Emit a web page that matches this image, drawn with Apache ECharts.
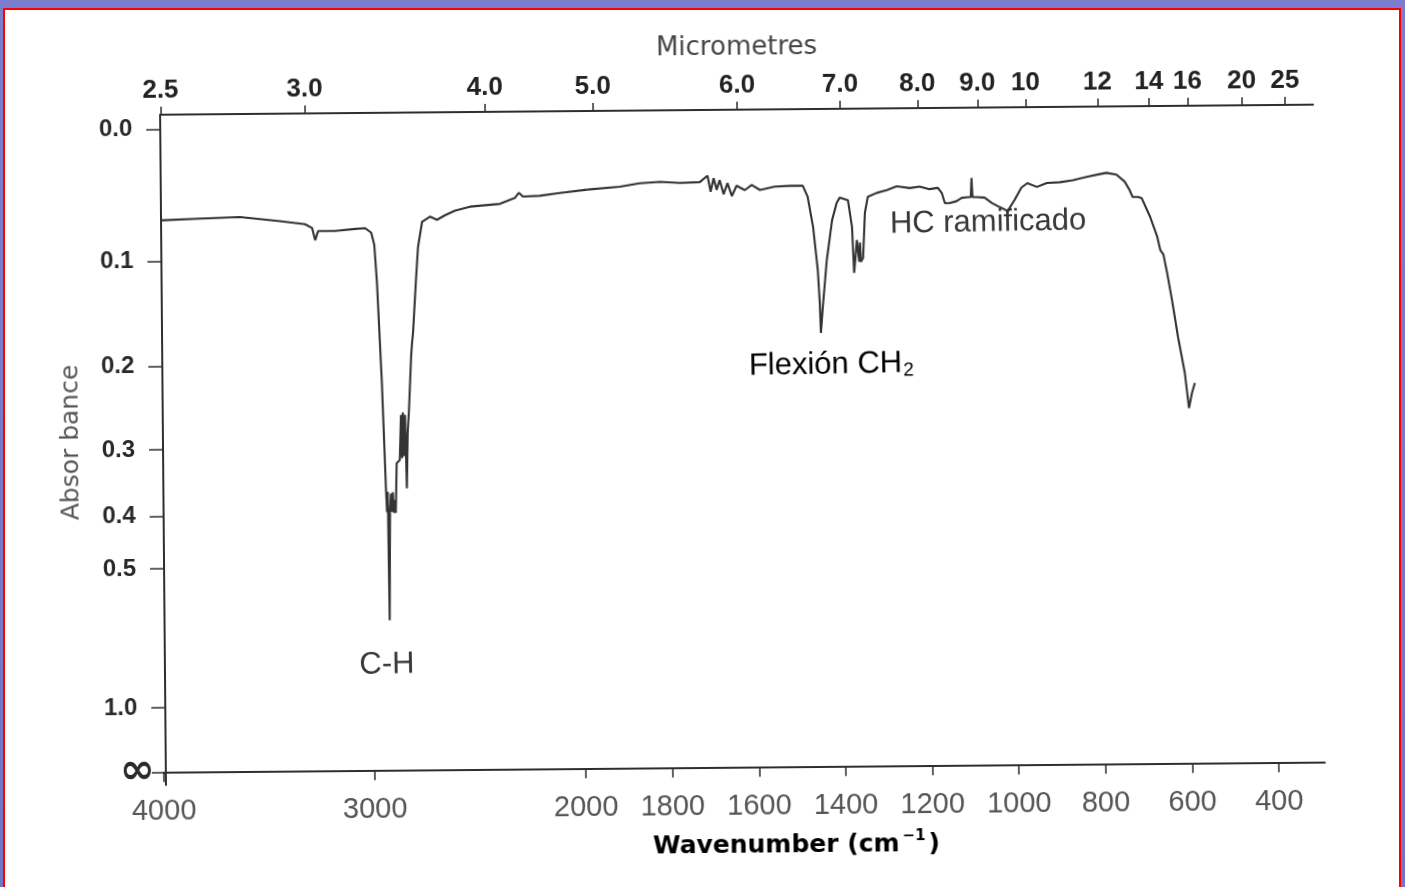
<!DOCTYPE html>
<html>
<head>
<meta charset="utf-8">
<script src="https://cdn.jsdelivr.net/npm/echarts@6/dist/echarts.min.js"></script>
<style>
html,body{margin:0;padding:0;width:1405px;height:887px;overflow:hidden;}
body{background:linear-gradient(180deg,#7d7dcf 0%,#7474c6 100%);}
#frame{position:absolute;left:3px;top:8px;width:1398px;height:885px;background:#fff;border:2px solid #f00;border-bottom:none;box-sizing:border-box;}
#chart{position:absolute;left:0;top:0;width:1405px;height:887px;transform:rotate(-0.5deg);transform-origin:702.5px 443.5px;}
</style>
</head>
<body>
<div id="frame"></div>
<div id="chart"></div>
<script>
// ---- tick label data ----
const absorbanceTicks = [0.0, 0.1, 0.2, 0.3, 0.4, 0.5, 1.0];
const absorbanceLabels = ['0.0', '0.1', '0.2', '0.3', '0.4', '0.5', '1.0'];
const infinityLabel = '\u221E';
const wavenumberTicksLeft = [4000, 3000, 2000];
const wavenumberTicksRight = [1800, 1600, 1400, 1200, 1000, 800, 600, 400];
const micrometreTicks = [2.5, 3.0, 4.0, 5.0, 6.0, 7.0, 8.0, 9.0, 10, 12, 14, 16, 20, 25];
const micrometreLabels = ['2.5', '3.0', '4.0', '5.0', '6.0', '7.0', '8.0', '9.0', '10', '12', '14', '16', '20', '25'];

// ---- spectrum (transmittance %) ----
const leftWavenumbers = [4000,3817,3630,3442,3325,3292,3278,3264,3184,3090,3043,3015,3001,2990,2971,2956,2952,2948,2944,2938,2933,2929,2924,2920,2915,2911,2905,2890,2883,2879,2874,2869,2864,2858,2852,2845,2833,2828,2823,2807,2796,2776,2739,2706,2668,2621,2551,2410,2340,2321,2302,2223,2129,2000];
const leftTransmittance = [85.8,86.0,86.2,85.5,85.0,84.4,82.5,83.9,83.9,84.2,84.3,83.6,81.7,75.8,60.2,43.6,40.1,43.3,23.3,40.4,43.0,40.2,43.2,40.0,42.0,40.0,47.7,48.2,55.2,48.5,55.6,48.8,55.2,43.8,52.5,56.0,64.2,66.4,67.9,76.2,81.3,85.2,86.0,85.5,86.2,86.9,87.5,87.9,88.8,89.6,89.0,89.1,89.5,90.0];
const rightWavenumbers = [2000,1925,1879,1832,1786,1740,1722,1715,1708,1701,1694,1685,1676,1666,1655,1636,1620,1601,1567,1532,1502,1491,1479,1469,1465,1463,1458,1448,1435,1424,1417,1398,1389,1385,1378,1373,1371,1369,1364,1359,1352,1331,1308,1285,1255,1232,1209,1190,1181,1174,1163,1147,1135,1121,1114,1112,1110,1101,1082,1066,1047,1029,1013,997,983,961,938,908,878,846,816,800,777,758,747,740,728,719,700,684,677,670,662,651,638,623,614,607,600];
const rightTransmittance = [90.0,90.4,90.9,91.1,90.9,91.0,92.0,89.5,91.6,89.8,91.3,89.1,90.8,88.8,90.4,89.7,90.5,89.7,90.2,90.3,90.3,88.6,83.9,77.2,72.1,67.4,71.5,78.7,84.9,87.6,88.4,88.0,83.8,76.7,81.8,78.4,81.4,78.4,79.0,86.0,88.5,89.1,89.5,90.1,89.8,90.0,89.6,89.8,89.0,87.4,87.4,87.7,88.2,88.3,88.3,91.3,88.3,88.3,88.2,87.4,86.7,86.1,87.8,89.7,90.4,89.8,90.4,90.5,90.8,91.3,91.7,91.9,91.6,90.5,89.2,88.1,88.1,87.9,85.0,81.9,79.8,79.1,76.3,72.0,66.3,60.7,55.2,57.5,59.1];

// ---- helpers ----
const absToT = a => 100 * Math.pow(10, -a);
const yTickValues = absorbanceTicks.map(absToT).concat([0]);
function yLabel(v) {
  if (Math.abs(v) < 1e-6) return '{inf|' + infinityLabel + '}';
  let best = 0, bd = 1e9;
  absorbanceTicks.forEach((a, i) => { const d = Math.abs(absToT(a) - v); if (d < bd) { bd = d; best = i; } });
  return absorbanceLabels[best];
}
const umToWn = m => 10000 / m;
function umLabel(v) {
  const m = 10000 / v;
  let best = 0, bd = 1e9;
  micrometreTicks.forEach((t, i) => { const d = Math.abs(t - m); if (d < bd) { bd = d; best = i; } });
  return micrometreLabels[best];
}
const umLeft = micrometreTicks.map(umToWn).filter(v => v >= 2000);
const umRight = micrometreTicks.map(umToWn).filter(v => v < 2000);
const pair = (xs, ys) => xs.map((x, i) => [x, ys[i]]);

const AX = '#2e2e2e';
const TMIN = -2, TMAX = 102.22;
const GTOP = 110, GH = 670.2;

function mkGrid(left, width) {
  return { left: left, top: GTOP, width: width, height: GH, containLabel: false, outerBoundsMode: 'none' };
}
function hiddenX(grid, min, max) {
  return { type: 'value', gridIndex: grid, min: min, max: max, inverse: true, show: false,
    axisLine: { show: false, onZero: false }, axisTick: { show: false }, axisLabel: { show: false }, splitLine: { show: false } };
}
function hiddenY(grid) {
  return { type: 'value', gridIndex: grid, min: TMIN, max: TMAX, show: false,
    axisLine: { show: false }, axisTick: { show: false }, axisLabel: { show: false }, splitLine: { show: false } };
}
function bottomAxis(grid, min, max, ticks) {
  return {
    type: 'value', gridIndex: grid, position: 'bottom', min: min, max: max, inverse: true,
    axisLine: { show: true, onZero: true, lineStyle: { color: AX, width: 2 } },
    axisTick: { show: true, customValues: ticks, inside: false, length: 10, lineStyle: { color: AX, width: 1.5 } },
    axisLabel: { show: true, customValues: ticks, margin: 12, color: '#555', fontFamily: 'Liberation Sans', fontSize: 29, formatter: v => String(Math.round(v)) },
    splitLine: { show: false }
  };
}
function topAxis(grid, min, max, ticks) {
  return {
    type: 'value', gridIndex: grid, position: 'top', min: min, max: max, inverse: true,
    axisLine: { show: true, onZero: false, lineStyle: { color: AX, width: 2 } },
    axisTick: { show: true, customValues: ticks, inside: false, length: 8, lineStyle: { color: AX, width: 1.5 } },
    axisLabel: { show: true, customValues: ticks, margin: 11, color: '#222', fontFamily: 'Liberation Sans', fontWeight: 'bold', fontSize: 26, formatter: umLabel },
    splitLine: { show: false }
  };
}

const ROT = -0.5 * Math.PI / 180;
const annFont = { fontFamily: 'Liberation Sans', fontSize: 31, fill: '#383838' };

const option = {
  animation: false,
  backgroundColor: 'transparent',
  grid: [
    mkGrid(163, 426.5),     // 0 data, left part (4000-2000)
    mkGrid(589.5, 730.5),   // 1 data, right part (2000-312)
    mkGrid(161, 422.1),     // 2 bottom scale, left part
    mkGrid(583.1, 738.9),   // 3 bottom scale, right part
    mkGrid(163.5, 432.4),   // 4 micrometre scale, left part
    mkGrid(595.9, 720.1)    // 5 micrometre scale, right part
  ],
  xAxis: [
    hiddenX(0, 2000, 4000),
    hiddenX(1, 312, 2000),
    bottomAxis(2, 2000, 4000, wavenumberTicksLeft),
    bottomAxis(3, 294, 2000, wavenumberTicksRight),
    topAxis(4, 2000, 4000, umLeft),
    topAxis(5, 335, 2000, umRight)
  ],
  yAxis: [
    {
      type: 'value', gridIndex: 0, min: TMIN, max: TMAX,
      axisLine: { show: true, lineStyle: { color: AX, width: 2 } },
      axisTick: { show: true, customValues: yTickValues, inside: false, length: 14, lineStyle: { color: AX, width: 1.5 } },
      axisLabel: {
        show: true, customValues: yTickValues, margin: 28, color: '#2a2a2a',
        fontFamily: 'Liberation Sans', fontWeight: 'bold', fontSize: 24, formatter: yLabel,
        rich: { inf: { fontFamily: 'DejaVu Sans', fontWeight: 'bold', fontSize: 42, color: '#2a2a2a', width: 18, align: 'left' } }
      },
      splitLine: { show: false }
    },
    hiddenY(1), hiddenY(2), hiddenY(3), hiddenY(4), hiddenY(5)
  ],
  series: [
    {
      type: 'line', xAxisIndex: 0, yAxisIndex: 0, data: pair(leftWavenumbers, leftTransmittance),
      showSymbol: false, symbol: 'none', lineStyle: { color: '#333', width: 2.1 }
    },
    {
      type: 'line', xAxisIndex: 1, yAxisIndex: 1, data: pair(rightWavenumbers, rightTransmittance),
      showSymbol: false, symbol: 'none', lineStyle: { color: '#333', width: 2.1 }
    }
  ],
  graphic: [
    { type: 'text', x: 740, y: 48, style: { text: 'Micrometres', textAlign: 'center', textVerticalAlign: 'middle', fontFamily: 'DejaVu Sans', fontSize: 26, fill: '#444' } },
    { type: 'text', x: 71, y: 437, rotation: Math.PI / 2, style: { text: 'Absor bance', textAlign: 'center', textVerticalAlign: 'middle', fontFamily: 'DejaVu Sans', fontSize: 25, fill: '#555' } },
    { type: 'text', x: 793, y: 846, style: {
        text: '{b|Wavenumber (cm}{s|\u22121}{b|)}', textAlign: 'center', textVerticalAlign: 'middle',
        rich: {
          b: { fontFamily: 'DejaVu Sans', fontWeight: 'bold', fontSize: 25, color: '#333' },
          s: { fontFamily: 'DejaVu Sans', fontWeight: 'bold', fontSize: 15, color: '#333', padding: [0, 3, 16, 3] }
        } } },
    { type: 'text', x: 385, y: 662, rotation: -ROT, style: Object.assign({ text: 'C-H', textAlign: 'center', textVerticalAlign: 'middle' }, annFont) },
    { type: 'text', x: 832, y: 366, rotation: -ROT, style: {
        text: '{a|Flexi\u00f3n CH}{s|2}', textAlign: 'center', textVerticalAlign: 'middle',
        rich: {
          a: { fontFamily: 'Liberation Sans', fontSize: 31, color: '#383838' },
          s: { fontFamily: 'Liberation Sans', fontSize: 19, color: '#383838', padding: [14, 0, 0, 1] }
        } } },
    { type: 'text', x: 990, y: 225, rotation: -ROT, style: Object.assign({ text: 'HC ramificado', textAlign: 'center', textVerticalAlign: 'middle' }, annFont) }
  ]
};

const chart = echarts.init(document.getElementById('chart'), null, { renderer: 'canvas' });
chart.setOption(option);
</script>
</body>
</html>
